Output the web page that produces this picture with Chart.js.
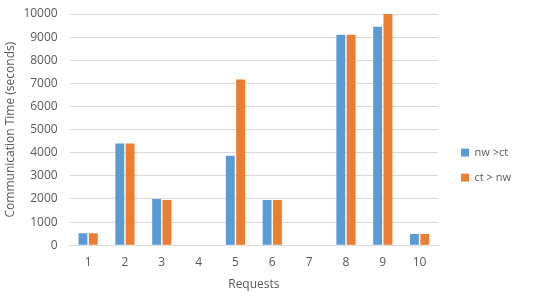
<!DOCTYPE html>
<html><head><meta charset="utf-8">
<script src="https://cdn.jsdelivr.net/npm/chart.js@4/dist/chart.umd.min.js"></script>
<style>html,body{margin:0;padding:0;background:#fff}#wrap{width:538px;height:298px;position:relative}</style>
</head><body><div id="wrap"><canvas id="c" width="538" height="298"></canvas></div>
<script>
const categories = ['1','2','3','4','5','6','7','8','9','10'];
const seriesNames = ['nw >ct', 'ct > nw'];
const nwCt = [520, 4400, 2000, 0, 3870, 1950, 0, 9100, 9450, 480];
const ctNw = [520, 4400, 1950, 0, 7170, 1950, 0, 9100, 10000, 480];
const yTicks = [0,1000,2000,3000,4000,5000,6000,7000,8000,9000,10000];

Chart.defaults.font.family = "'Open Sans', sans-serif";
Chart.defaults.color = '#595959';
new Chart(document.getElementById('c'), {
  type: 'bar',
  data: {
    labels: categories,
    datasets: [
      {label: seriesNames[0], data: nwCt, backgroundColor: '#5B9BD5', categoryPercentage: 0.56, barPercentage: 0.86},
      {label: seriesNames[1], data: ctNw, backgroundColor: '#ED7D31', categoryPercentage: 0.56, barPercentage: 0.86}
    ]
  },
  options: {
    responsive: false,
    animation: false,
    layout: {padding: {top: 14, left: 0, right: 17, bottom: 6}},
    plugins: {
      legend: {
        position: 'right',
        title: {display: true, text: ' ', padding: {top: 0, bottom: 11}, font: {size: 11}},
        labels: {boxWidth: 8, boxHeight: 8, padding: 14, font: {size: 11}, color: '#595959'}
      },
      tooltip: {enabled: false}
    },
    scales: {
      x: {
        grid: {display: false, drawTicks: false},
        border: {color: '#d9d9d9'},
        ticks: {padding: 10, font: {size: 12}},
        title: {display: true, text: 'Requests', font: {size: 12}, padding: {top: -2, bottom: 0}}
      },
      y: {
        min: 0, max: 10000,
        afterBuildTicks: (ax) => { ax.ticks = yTicks.map(v => ({value: v})); },
        grid: {color: '#d9d9d9', drawTicks: true, tickLength: 12, tickColor: 'rgba(0,0,0,0)'},
        border: {display: false},
        ticks: {padding: 0, font: {size: 12}, callback: (v) => String(v)},
        title: {display: true, text: 'Communication Time (seconds)', font: {size: 12}, padding: {top: 3, bottom: 6}}
      },
      gap: {
        position: 'right', display: true,
        grid: {display: false, drawTicks: false},
        border: {display: false},
        ticks: {display: false},
        afterFit: (ax) => { ax.width = 9; }
      }
    }
  }
});
</script></body></html>
